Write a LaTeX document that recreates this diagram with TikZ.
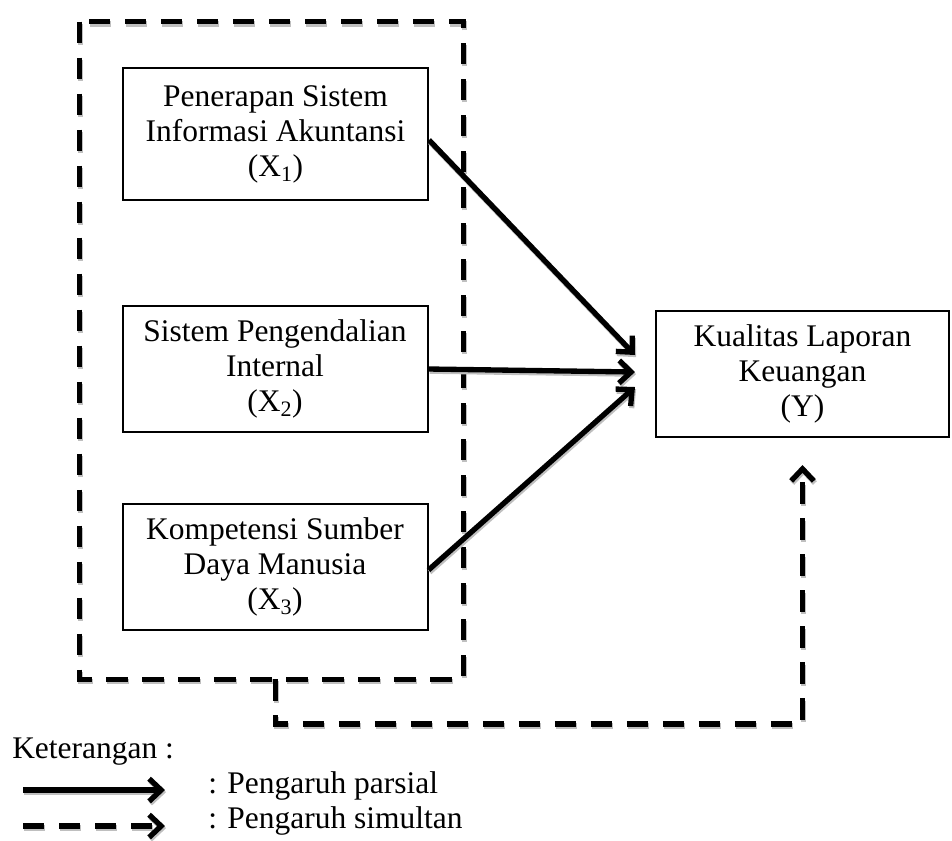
\documentclass[tikz,border=0pt]{standalone}
\usepackage{fontspec}
\setmainfont{Liberation Serif}
\usepackage{tikz}
\usetikzlibrary{arrows.meta,positioning}

\tikzset{
	varbox/.style={draw, line width=1.5pt, align=center, minimum width=228.75pt, minimum height=95pt, inner sep=0pt,
		font=\fontsize{23.6}{26.3}\selectfont},
	shade line/.style={preaction={draw=gray!50, line width=4pt, transform canvas={shift={(0.8pt,-1.6pt)}}}},
	shade dash/.style={preaction={draw=gray!50, line width=4pt, dash pattern=on 16pt off 11pt, transform canvas={shift={(0.8pt,-1.6pt)}}}},
	groupbox/.style={shade dash, draw, line width=4pt, dash pattern=on 16pt off 11pt},
	partial/.style={shade line, line width=4pt, -{Straight Barb[length=9pt,width=17pt]}},
	simultan/.style={shade dash, line width=4pt, dash pattern=on 16pt off 11pt, -{Straight Barb[length=9pt,width=17pt]}},
	legtext/.style={anchor=west, inner sep=0pt, font=\fontsize{23.6}{26.3}\selectfont}
}

\begin{document}
\begin{tikzpicture}[x=0.75pt,y=-0.75pt]
	\useasboundingbox (0,0) rectangle (952,840);
	
	\node[varbox, minimum height=99pt] (x1) at (275.5,134) {Penerapan Sistem\\Informasi Akuntansi\\(X\textsubscript{1})};
	\node[varbox] (x2) at (275,369) {Sistem Pengendalian\\Internal\\(X\textsubscript{2})};
	\node[varbox] (x3) at (275,567) {Kompetensi Sumber\\Daya Manusia\\(X\textsubscript{3})};
	\node[varbox, minimum width=219.75pt] (y) at (802.5,374) {Kualitas Laporan\\Keuangan\\(Y)};
	
	\node[minimum width=287.25pt, minimum height=492.75pt, inner sep=0pt] (grp) at (271.5,350.5) {};
	\draw[groupbox] (grp.north west) rectangle (grp.south east);
	
	\draw[partial] (x1.east) ++(0,6) -- (635,355);
	\draw[partial] (x2.east) -- (635,372);
	\draw[partial] (x3.east) ++(0,3) -- (635,387);
	
	\coordinate (low) at (275,724);
	\draw[simultan] (grp.south) ++(4,0) |- (low -| y.south) -- ([yshift=-20] y.south);
	
	\node[legtext] (ket) at (12,752) {Keterangan :};
	\coordinate (s1) at (23,790);
	\coordinate (e1) at (165,790);
	\coordinate (s2) at (23,826);
	\coordinate (e2) at (165,826);
	\draw[partial] (s1) -- (e1);
	\draw[simultan] (s2) -- (e2);
	\node[legtext] (lp) at (208,786) {: Pengaruh parsial};
	\node[legtext] (ls) at (208,821) {: Pengaruh simultan};
\end{tikzpicture}
\end{document}
